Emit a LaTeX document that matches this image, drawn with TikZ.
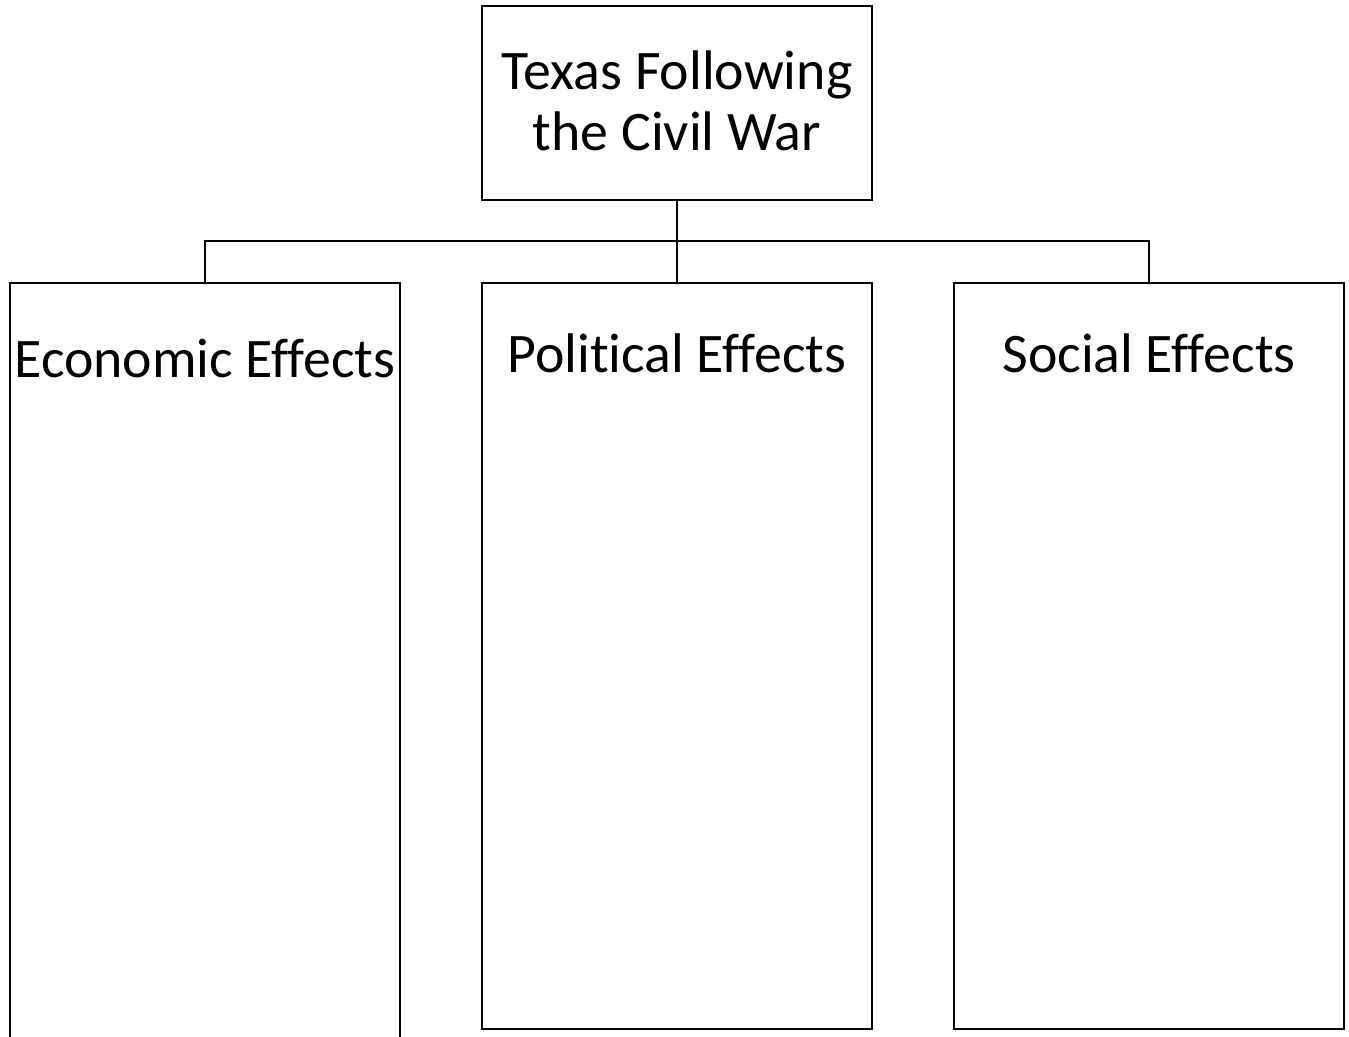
\documentclass[tikz,border=0pt]{standalone}
\usepackage{fontspec}
\setmainfont{Carlito}[Ligatures={NoCommon}, RawFeature={-liga}]
\begin{document}
\begin{tikzpicture}[x=1pt,y=-1pt,
  box/.style={draw=black, line width=2.4pt, rectangle, inner sep=0pt, minimum width=390pt},
  lbl/.style={font=\fontsize{55.8}{62}\selectfont, inner sep=0pt, anchor=base, align=center},
  conn/.style={draw=black, line width=2.4pt}]
\useasboundingbox (0,0) rectangle (1349,1036);
\clip (0,0) rectangle (1349,1036);
\node[box, minimum height=194pt] (top) at (677,103) {};
\node[lbl, font=\fontsize{55.8}{61}\selectfont, anchor=center] (toptxt) at (677,101) {Texas Following\\the Civil War};
\node[box, minimum height=770pt] (econ) at (205,668) {};
\node[box, minimum height=746pt] (pol) at (677,656) {};
\node[box, minimum height=746pt] (soc) at (1149,656) {};
\node[lbl] (econtxt) at (205,377) {Economic Effects};
\node[lbl] (poltxt) at (677,372) {Political Effects};
\node[lbl] (soctxt) at (1149,372) {Social Effects};
\coordinate (hub) at (677,241);
\draw[conn] (top.south) -- (pol.north);
\draw[conn] (econ.north) |- (hub) -| (soc.north);
\end{tikzpicture}
\end{document}
